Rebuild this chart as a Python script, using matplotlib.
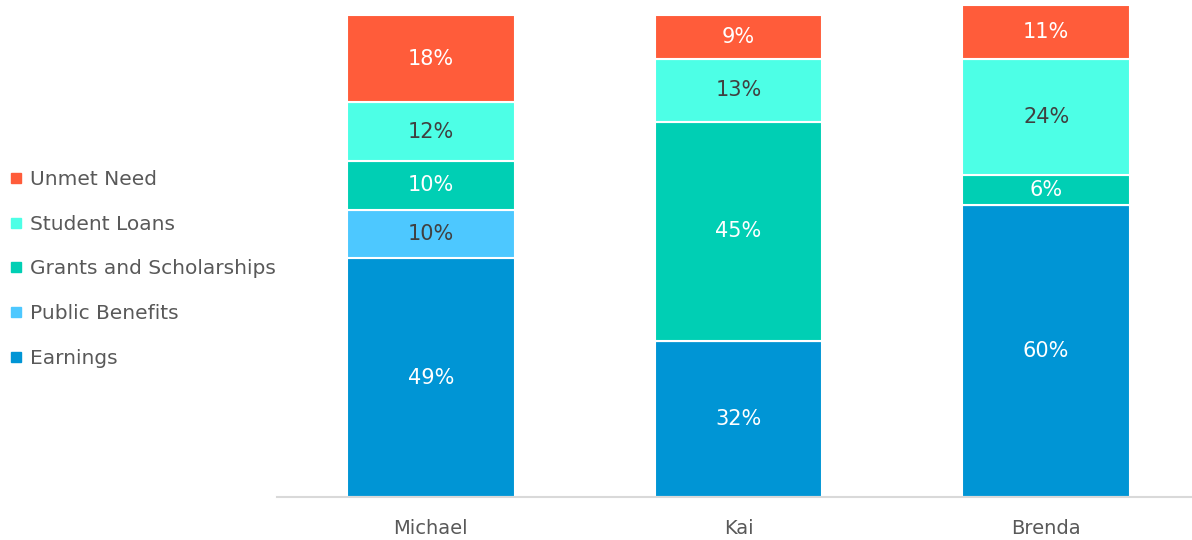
import matplotlib
matplotlib.use('Agg')
import matplotlib.pyplot as plt
from matplotlib.lines import Line2D
import numpy as np

people = ['Michael', 'Kai', 'Brenda']
series = ['Earnings', 'Public Benefits', 'Grants and Scholarships', 'Student Loans', 'Unmet Need']
earnings = [49, 32, 60]
public_benefits = [10, 0, 0]
grants = [10, 45, 6]
loans = [12, 13, 24]
unmet = [18, 9, 11]

colors = ['#0095d5', '#4dc8ff', '#00cfb4', '#4dffe6', '#ff5c3a']
text_colors = ['white', '#404040', 'white', '#404040', 'white']

plt.rcParams['font.family'] = ['DejaVu Sans']

fig = plt.figure(figsize=(11.92, 5.40), dpi=100)
ax = fig.add_axes([0.2324, 0.0796, 0.7676, 0.9022])

x = np.arange(len(people))
bottom = np.zeros(len(people))
for vals, col, tc in zip([earnings, public_benefits, grants, loans, unmet], colors, text_colors):
    vals = np.array(vals, dtype=float)
    ax.bar(x, vals, bottom=bottom, width=0.545, color=col, edgecolor='white', linewidth=1.5, clip_on=False)
    for xi, b, v in zip(x, bottom, vals):
        if v > 0:
            ax.text(xi, b + v / 2, f'{v:.0f}%', ha='center', va='center', fontsize=15, color=tc)
    bottom += vals

ax.set_xlim(-0.5, 2.474)
ax.set_ylim(0, 100)
ax.set_xticks(x)
ax.set_xticklabels(people, fontsize=14, color='#595959')
ax.tick_params(axis='x', length=0, pad=16)
ax.set_yticks([])
for s in ['top', 'right', 'left']:
    ax.spines[s].set_visible(False)
ax.spines['bottom'].set_color('#d9d9d9')
ax.spines['bottom'].set_linewidth(1.5)

handles = [Line2D([], [], marker='s', linestyle='', markersize=7, color=c) for c in colors[::-1]]
leg = fig.legend(handles, series[::-1], loc='center left', bbox_to_anchor=(0.0, 0.502),
                 frameon=False, fontsize=14.5, handlelength=0.6, handletextpad=0.4,
                 labelspacing=1.27, borderaxespad=0.1)
for t in leg.get_texts():
    t.set_color('#595959')

fig.savefig('out.png', dpi=100)
